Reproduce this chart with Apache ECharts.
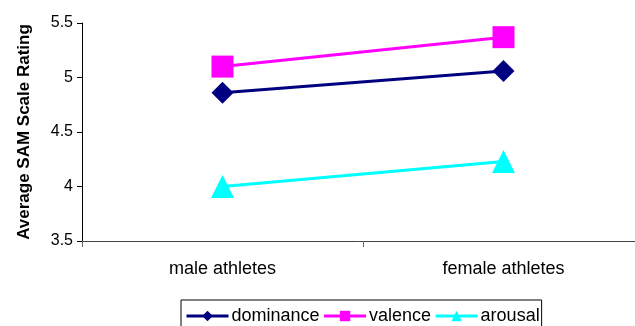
<!DOCTYPE html>
<html>
<head>
<meta charset="utf-8">
<script src="https://cdn.jsdelivr.net/npm/echarts@6/dist/echarts.min.js"></script>
<style>
html,body{margin:0;padding:0;background:#fff;}
#chart{width:635px;height:326px;}
</style>
</head>
<body>
<div id="chart"></div>
<script>
const categories = ['male athletes', 'female athletes'];
const dominance = [4.86, 5.06];
const valence = [5.10, 5.37];
const arousal = [4.00, 4.23];
const yTicks = [3.5, 4, 4.5, 5, 5.5];

const font = 'Liberation Sans, Arial, sans-serif';
const chart = echarts.init(document.getElementById('chart'), null, {renderer: 'canvas'});
chart.setOption({
  animation: false,
  backgroundColor: '#fff',
  grid: {left: 82, top: 23, width: 562, height: 218, containLabel: false, outerBoundsMode: 'none'},
  legend: {
    left: 181, top: 300,
    padding: [7, 2, 8, 4],
    itemGap: 3,
    itemWidth: 42,
    itemHeight: 13,
    borderColor: '#000',
    borderWidth: 1,
    lineStyle: {width: 3},
    textStyle: {fontFamily: font, fontSize: 18, color: '#000', padding: [0, 0, 0, -2]},
    data: ['dominance', 'valence', 'arousal']
  },
  xAxis: {
    type: 'category',
    data: categories,
    boundaryGap: true,
    axisLine: {lineStyle: {color: '#444', width: 1}},
    axisTick: {show: true, length: 6, lineStyle: {color: '#666'}},
    axisLabel: {fontFamily: font, fontSize: 18, color: '#000', margin: 19}
  },
  yAxis: {
    type: 'value',
    min: yTicks[0], max: yTicks[yTicks.length - 1], interval: 0.5,
    name: 'Average SAM Scale Rating',
    nameLocation: 'middle',
    nameGap: 49,
    nameTextStyle: {fontFamily: font, fontSize: 17, fontWeight: 'bold', color: '#000'},
    splitLine: {show: false},
    axisLine: {show: true, lineStyle: {color: '#000', width: 1}},
    axisTick: {show: true, length: 5, inside: false, lineStyle: {color: '#000'}},
    axisLabel: {fontFamily: font, fontSize: 16, color: '#000', margin: 9,
      formatter: v => String(v)}
  },
  series: [
    {name: 'dominance', type: 'line', data: dominance, symbol: 'diamond', symbolSize: 22,
      color: '#000080', lineStyle: {width: 3, color: '#000080'}, itemStyle: {color: '#000080'}},
    {name: 'valence', type: 'line', data: valence, symbol: 'rect', symbolSize: 22,
      color: '#ff00ff', lineStyle: {width: 3, color: '#ff00ff'}, itemStyle: {color: '#ff00ff'}},
    {name: 'arousal', type: 'line', data: arousal, symbol: 'triangle', symbolSize: 23,
      color: '#00ffff', lineStyle: {width: 3, color: '#00ffff'}, itemStyle: {color: '#00ffff'}}
  ]
});
</script>
</body>
</html>
